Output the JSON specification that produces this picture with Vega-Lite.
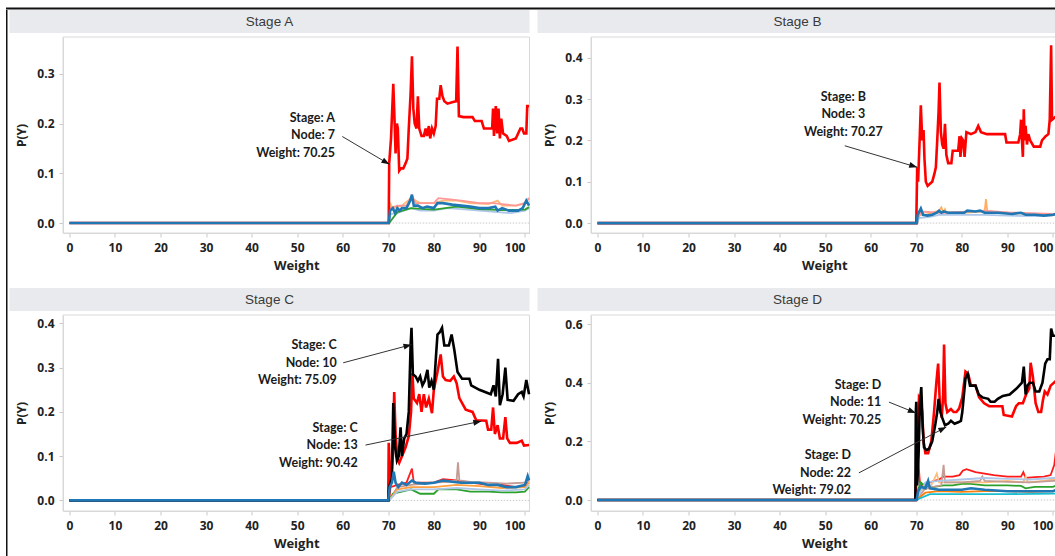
{
  "$schema": "https://vega.github.io/schema/vega-lite/v6.json",
  "padding": {"left": 6, "top": 7.5, "right": 0, "bottom": 0},
  "background": "white",
  "config": {
    "view": {"stroke": null},
    "axis": {"domainColor": "#d6d6d6", "tickColor": "#c8c8c8", "tickSize": 4, "labelFont": "Open Sans", "labelFontWeight": "bold", "labelFontSize": 12, "labelColor": "#222222", "titleFont": "Open Sans", "titleFontWeight": "bold", "titleFontSize": 13, "titleColor": "#222222", "grid": false, "labelOverlap": false},
    "axisY": {"titleFontSize": 12}
  },
  "datasets": {
    "A": [
      {"node":"7","weight":0,"p":0},{"node":"7","weight":70.1,"p":0},{"node":"7","weight":70.2,"p":0.12},{"node":"7","weight":70.6,"p":0.17},{"node":"7","weight":71.1,"p":0.28},{"node":"7","weight":71.4,"p":0.2},{"node":"7","weight":71.6,"p":0.14},{"node":"7","weight":71.9,"p":0.2},{"node":"7","weight":72.1,"p":0.19},{"node":"7","weight":72.4,"p":0.105},{"node":"7","weight":72.8,"p":0.11},{"node":"7","weight":73.3,"p":0.11},{"node":"7","weight":73.8,"p":0.12},{"node":"7","weight":74.2,"p":0.13},{"node":"7","weight":74.5,"p":0.19},{"node":"7","weight":74.9,"p":0.26},{"node":"7","weight":75.2,"p":0.335},{"node":"7","weight":75.5,"p":0.23},{"node":"7","weight":75.8,"p":0.2},{"node":"7","weight":76.2,"p":0.19},{"node":"7","weight":76.5,"p":0.255},{"node":"7","weight":76.8,"p":0.19},{"node":"7","weight":77.3,"p":0.175},{"node":"7","weight":77.8,"p":0.175},{"node":"7","weight":78.2,"p":0.19},{"node":"7","weight":78.5,"p":0.175},{"node":"7","weight":78.9,"p":0.195},{"node":"7","weight":79.2,"p":0.17},{"node":"7","weight":79.6,"p":0.19},{"node":"7","weight":80.0,"p":0.18},{"node":"7","weight":80.4,"p":0.195},{"node":"7","weight":80.7,"p":0.25},{"node":"7","weight":81.2,"p":0.25},{"node":"7","weight":81.5,"p":0.277},{"node":"7","weight":81.9,"p":0.255},{"node":"7","weight":82.3,"p":0.245},{"node":"7","weight":83.0,"p":0.24},{"node":"7","weight":84.0,"p":0.243},{"node":"7","weight":84.9,"p":0.245},{"node":"7","weight":85.2,"p":0.355},{"node":"7","weight":85.5,"p":0.215},{"node":"7","weight":86.5,"p":0.213},{"node":"7","weight":88.5,"p":0.213},{"node":"7","weight":89.0,"p":0.205},{"node":"7","weight":90.5,"p":0.205},{"node":"7","weight":91.0,"p":0.19},{"node":"7","weight":92.8,"p":0.19},{"node":"7","weight":93.0,"p":0.23},{"node":"7","weight":93.2,"p":0.175},{"node":"7","weight":93.6,"p":0.235},{"node":"7","weight":93.9,"p":0.18},{"node":"7","weight":94.2,"p":0.23},{"node":"7","weight":94.5,"p":0.17},{"node":"7","weight":94.8,"p":0.21},{"node":"7","weight":95.2,"p":0.18},{"node":"7","weight":96.0,"p":0.175},{"node":"7","weight":96.5,"p":0.165},{"node":"7","weight":98.0,"p":0.17},{"node":"7","weight":99.0,"p":0.19},{"node":"7","weight":99.4,"p":0.19},{"node":"7","weight":99.8,"p":0.18},{"node":"7","weight":100.3,"p":0.18},{"node":"7","weight":100.5,"p":0.235},{"node":"7","weight":100.9,"p":0.235},
      {"node":"1","weight":0,"p":0},{"node":"1","weight":70.1,"p":0},{"node":"1","weight":70.4,"p":0.025},{"node":"1","weight":71.0,"p":0.03},{"node":"1","weight":71.5,"p":0.02},{"node":"1","weight":72.0,"p":0.03},{"node":"1","weight":72.5,"p":0.025},{"node":"1","weight":73.0,"p":0.03},{"node":"1","weight":74.0,"p":0.03},{"node":"1","weight":74.8,"p":0.045},{"node":"1","weight":75.2,"p":0.057},{"node":"1","weight":75.6,"p":0.035},{"node":"1","weight":76.5,"p":0.035},{"node":"1","weight":77.5,"p":0.03},{"node":"1","weight":78.5,"p":0.033},{"node":"1","weight":80.0,"p":0.03},{"node":"1","weight":80.8,"p":0.04},{"node":"1","weight":82.0,"p":0.04},{"node":"1","weight":84.0,"p":0.037},{"node":"1","weight":86.0,"p":0.035},{"node":"1","weight":88.0,"p":0.033},{"node":"1","weight":90.0,"p":0.03},{"node":"1","weight":92.0,"p":0.03},{"node":"1","weight":93.5,"p":0.033},{"node":"1","weight":94.0,"p":0.025},{"node":"1","weight":95.0,"p":0.03},{"node":"1","weight":96.5,"p":0.025},{"node":"1","weight":98.5,"p":0.025},{"node":"1","weight":99.5,"p":0.03},{"node":"1","weight":100.3,"p":0.045},{"node":"1","weight":100.9,"p":0.035},
      {"node":"2","weight":70.2,"p":0},{"node":"2","weight":70.4,"p":0.04},{"node":"2","weight":71.0,"p":0.03},{"node":"2","weight":73.0,"p":0.035},{"node":"2","weight":75.0,"p":0.05},{"node":"2","weight":77.0,"p":0.04},{"node":"2","weight":80.0,"p":0.04},{"node":"2","weight":82.0,"p":0.045},{"node":"2","weight":85.0,"p":0.045},{"node":"2","weight":88.0,"p":0.04},{"node":"2","weight":92.0,"p":0.038},{"node":"2","weight":94.0,"p":0.045},{"node":"2","weight":95.0,"p":0.035},{"node":"2","weight":98.0,"p":0.035},{"node":"2","weight":100.0,"p":0.04},{"node":"2","weight":100.9,"p":0.05},
      {"node":"3","weight":70.2,"p":0},{"node":"3","weight":70.5,"p":0.03},{"node":"3","weight":72.0,"p":0.035},{"node":"3","weight":74.0,"p":0.035},{"node":"3","weight":75.2,"p":0.055},{"node":"3","weight":76.0,"p":0.04},{"node":"3","weight":78.0,"p":0.04},{"node":"3","weight":80.0,"p":0.04},{"node":"3","weight":81.0,"p":0.05},{"node":"3","weight":83.0,"p":0.048},{"node":"3","weight":86.0,"p":0.045},{"node":"3","weight":90.0,"p":0.04},{"node":"3","weight":93.0,"p":0.04},{"node":"3","weight":95.0,"p":0.038},{"node":"3","weight":98.0,"p":0.035},{"node":"3","weight":100.0,"p":0.04},{"node":"3","weight":100.9,"p":0.05},
      {"node":"4","weight":70.2,"p":0},{"node":"4","weight":70.5,"p":0.018},{"node":"4","weight":72.0,"p":0.02},{"node":"4","weight":75.0,"p":0.03},{"node":"4","weight":77.0,"p":0.025},{"node":"4","weight":80.0,"p":0.025},{"node":"4","weight":83.0,"p":0.03},{"node":"4","weight":86.0,"p":0.028},{"node":"4","weight":90.0,"p":0.025},{"node":"4","weight":94.0,"p":0.022},{"node":"4","weight":97.0,"p":0.02},{"node":"4","weight":100.0,"p":0.025},{"node":"4","weight":100.9,"p":0.03},
      {"node":"5","weight":70.2,"p":0},{"node":"5","weight":72.0,"p":0.022},{"node":"5","weight":75.0,"p":0.03},{"node":"5","weight":78.0,"p":0.028},{"node":"5","weight":80.0,"p":0.027},{"node":"5","weight":85.0,"p":0.033},{"node":"5","weight":90.0,"p":0.028},{"node":"5","weight":95.0,"p":0.026},{"node":"5","weight":100.0,"p":0.027},{"node":"5","weight":100.9,"p":0.032}
    ],
    "B": [
      {"node":"3","weight":0,"p":0},{"node":"3","weight":70.0,"p":0},{"node":"3","weight":70.05,"p":0.03},{"node":"3","weight":70.2,"p":0.135},{"node":"3","weight":70.4,"p":0.1},{"node":"3","weight":70.8,"p":0.22},{"node":"3","weight":71.0,"p":0.285},{"node":"3","weight":71.3,"p":0.2},{"node":"3","weight":71.6,"p":0.225},{"node":"3","weight":71.8,"p":0.155},{"node":"3","weight":72.1,"p":0.1},{"node":"3","weight":72.5,"p":0.09},{"node":"3","weight":73.0,"p":0.095},{"node":"3","weight":73.5,"p":0.1},{"node":"3","weight":74.0,"p":0.12},{"node":"3","weight":74.3,"p":0.135},{"node":"3","weight":74.6,"p":0.2},{"node":"3","weight":74.9,"p":0.27},{"node":"3","weight":75.1,"p":0.34},{"node":"3","weight":75.4,"p":0.22},{"node":"3","weight":75.7,"p":0.19},{"node":"3","weight":76.0,"p":0.18},{"node":"3","weight":76.3,"p":0.24},{"node":"3","weight":76.6,"p":0.165},{"node":"3","weight":77.0,"p":0.145},{"node":"3","weight":77.7,"p":0.145},{"node":"3","weight":78.0,"p":0.175},{"node":"3","weight":79.2,"p":0.175},{"node":"3","weight":79.5,"p":0.21},{"node":"3","weight":79.7,"p":0.16},{"node":"3","weight":80.0,"p":0.205},{"node":"3","weight":80.3,"p":0.2},{"node":"3","weight":80.6,"p":0.16},{"node":"3","weight":81.0,"p":0.22},{"node":"3","weight":82.0,"p":0.215},{"node":"3","weight":83.0,"p":0.22},{"node":"3","weight":83.6,"p":0.235},{"node":"3","weight":84.2,"p":0.22},{"node":"3","weight":85.5,"p":0.215},{"node":"3","weight":89.5,"p":0.215},{"node":"3","weight":89.8,"p":0.195},{"node":"3","weight":92.4,"p":0.195},{"node":"3","weight":92.8,"p":0.215},{"node":"3","weight":93.0,"p":0.25},{"node":"3","weight":93.2,"p":0.2},{"node":"3","weight":93.4,"p":0.16},{"node":"3","weight":93.6,"p":0.275},{"node":"3","weight":93.8,"p":0.2},{"node":"3","weight":94.0,"p":0.235},{"node":"3","weight":94.3,"p":0.19},{"node":"3","weight":94.6,"p":0.215},{"node":"3","weight":95.0,"p":0.2},{"node":"3","weight":95.8,"p":0.185},{"node":"3","weight":97.2,"p":0.185},{"node":"3","weight":97.6,"p":0.2},{"node":"3","weight":98.4,"p":0.21},{"node":"3","weight":99.0,"p":0.215},{"node":"3","weight":99.3,"p":0.25},{"node":"3","weight":99.6,"p":0.43},{"node":"3","weight":99.8,"p":0.25},{"node":"3","weight":100.9,"p":0.26},
      {"node":"1","weight":0,"p":0},{"node":"1","weight":70.1,"p":0},{"node":"1","weight":70.3,"p":0.02},{"node":"1","weight":71.0,"p":0.035},{"node":"1","weight":71.5,"p":0.02},{"node":"1","weight":72.5,"p":0.018},{"node":"1","weight":73.5,"p":0.02},{"node":"1","weight":74.5,"p":0.025},{"node":"1","weight":75.0,"p":0.03},{"node":"1","weight":75.5,"p":0.025},{"node":"1","weight":76.0,"p":0.028},{"node":"1","weight":77.0,"p":0.025},{"node":"1","weight":78.0,"p":0.025},{"node":"1","weight":79.5,"p":0.025},{"node":"1","weight":80.5,"p":0.025},{"node":"1","weight":81.2,"p":0.03},{"node":"1","weight":83.0,"p":0.028},{"node":"1","weight":84.0,"p":0.03},{"node":"1","weight":85.0,"p":0.025},{"node":"1","weight":88.0,"p":0.025},{"node":"1","weight":91.0,"p":0.022},{"node":"1","weight":93.0,"p":0.025},{"node":"1","weight":94.0,"p":0.02},{"node":"1","weight":96.0,"p":0.02},{"node":"1","weight":98.0,"p":0.018},{"node":"1","weight":100.0,"p":0.02},{"node":"1","weight":100.9,"p":0.022},
      {"node":"2","weight":70.2,"p":0},{"node":"2","weight":70.5,"p":0.02},{"node":"2","weight":72.0,"p":0.02},{"node":"2","weight":75.0,"p":0.03},{"node":"2","weight":75.5,"p":0.038},{"node":"2","weight":76.0,"p":0.025},{"node":"2","weight":76.3,"p":0.033},{"node":"2","weight":76.6,"p":0.025},{"node":"2","weight":80.0,"p":0.025},{"node":"2","weight":85.0,"p":0.028},{"node":"2","weight":85.3,"p":0.058},{"node":"2","weight":85.6,"p":0.028},{"node":"2","weight":90.0,"p":0.025},{"node":"2","weight":95.0,"p":0.022},{"node":"2","weight":100.0,"p":0.02},{"node":"2","weight":100.9,"p":0.022},
      {"node":"4","weight":70.2,"p":0},{"node":"4","weight":71.0,"p":0.028},{"node":"4","weight":75.0,"p":0.025},{"node":"4","weight":80.0,"p":0.027},{"node":"4","weight":85.0,"p":0.03},{"node":"4","weight":90.0,"p":0.026},{"node":"4","weight":100.0,"p":0.022},{"node":"4","weight":100.9,"p":0.024},
      {"node":"5","weight":70.2,"p":0},{"node":"5","weight":70.5,"p":0.012},{"node":"5","weight":73.0,"p":0.015},{"node":"5","weight":75.0,"p":0.02},{"node":"5","weight":80.0,"p":0.02},{"node":"5","weight":85.0,"p":0.02},{"node":"5","weight":90.0,"p":0.018},{"node":"5","weight":95.0,"p":0.017},{"node":"5","weight":100.0,"p":0.018}
    ],
    "C": [
      {"node":"10","weight":0,"p":0},{"node":"10","weight":70.0,"p":0},{"node":"10","weight":70.2,"p":0.03},{"node":"10","weight":70.8,"p":0.05},{"node":"10","weight":71.1,"p":0.22},{"node":"10","weight":71.5,"p":0.12},{"node":"10","weight":71.9,"p":0.09},{"node":"10","weight":72.3,"p":0.1},{"node":"10","weight":72.7,"p":0.165},{"node":"10","weight":73.0,"p":0.1},{"node":"10","weight":73.5,"p":0.14},{"node":"10","weight":74.0,"p":0.15},{"node":"10","weight":74.5,"p":0.2},{"node":"10","weight":74.9,"p":0.35},{"node":"10","weight":75.1,"p":0.39},{"node":"10","weight":75.4,"p":0.285},{"node":"10","weight":76.0,"p":0.28},{"node":"10","weight":76.5,"p":0.27},{"node":"10","weight":77.0,"p":0.28},{"node":"10","weight":77.5,"p":0.26},{"node":"10","weight":78.0,"p":0.27},{"node":"10","weight":78.6,"p":0.295},{"node":"10","weight":79.0,"p":0.255},{"node":"10","weight":79.5,"p":0.27},{"node":"10","weight":80.0,"p":0.25},{"node":"10","weight":80.5,"p":0.33},{"node":"10","weight":80.8,"p":0.375},{"node":"10","weight":81.3,"p":0.38},{"node":"10","weight":81.8,"p":0.39},{"node":"10","weight":82.3,"p":0.35},{"node":"10","weight":83.3,"p":0.35},{"node":"10","weight":83.9,"p":0.375},{"node":"10","weight":84.5,"p":0.34},{"node":"10","weight":85.2,"p":0.29},{"node":"10","weight":86.2,"p":0.275},{"node":"10","weight":87.8,"p":0.275},{"node":"10","weight":88.2,"p":0.26},{"node":"10","weight":90.0,"p":0.25},{"node":"10","weight":92.5,"p":0.24},{"node":"10","weight":93.1,"p":0.26},{"node":"10","weight":93.6,"p":0.235},{"node":"10","weight":94.1,"p":0.32},{"node":"10","weight":94.5,"p":0.215},{"node":"10","weight":95.1,"p":0.24},{"node":"10","weight":95.7,"p":0.3},{"node":"10","weight":96.2,"p":0.227},{"node":"10","weight":97.5,"p":0.225},{"node":"10","weight":98.5,"p":0.24},{"node":"10","weight":99.3,"p":0.245},{"node":"10","weight":99.7,"p":0.235},{"node":"10","weight":100.3,"p":0.272},{"node":"10","weight":100.9,"p":0.24},
      {"node":"13","weight":0,"p":0},{"node":"13","weight":70.0,"p":0},{"node":"13","weight":70.1,"p":0.13},{"node":"13","weight":70.5,"p":0.04},{"node":"13","weight":71.0,"p":0.1},{"node":"13","weight":71.3,"p":0.245},{"node":"13","weight":71.6,"p":0.15},{"node":"13","weight":72.0,"p":0.095},{"node":"13","weight":72.4,"p":0.085},{"node":"13","weight":73.0,"p":0.1},{"node":"13","weight":73.8,"p":0.12},{"node":"13","weight":74.5,"p":0.145},{"node":"13","weight":75.0,"p":0.2},{"node":"13","weight":75.3,"p":0.287},{"node":"13","weight":75.6,"p":0.23},{"node":"13","weight":76.3,"p":0.22},{"node":"13","weight":76.8,"p":0.24},{"node":"13","weight":77.3,"p":0.2},{"node":"13","weight":77.8,"p":0.24},{"node":"13","weight":78.3,"p":0.21},{"node":"13","weight":78.9,"p":0.23},{"node":"13","weight":79.6,"p":0.197},{"node":"13","weight":80.0,"p":0.25},{"node":"13","weight":80.8,"p":0.29},{"node":"13","weight":81.5,"p":0.33},{"node":"13","weight":82.0,"p":0.28},{"node":"13","weight":82.6,"p":0.272},{"node":"13","weight":83.6,"p":0.27},{"node":"13","weight":84.4,"p":0.28},{"node":"13","weight":85.0,"p":0.265},{"node":"13","weight":85.6,"p":0.231},{"node":"13","weight":87.0,"p":0.205},{"node":"13","weight":88.5,"p":0.2},{"node":"13","weight":89.3,"p":0.181},{"node":"13","weight":91.5,"p":0.18},{"node":"13","weight":91.9,"p":0.16},{"node":"13","weight":92.6,"p":0.16},{"node":"13","weight":93.0,"p":0.21},{"node":"13","weight":93.4,"p":0.15},{"node":"13","weight":94.0,"p":0.17},{"node":"13","weight":94.5,"p":0.14},{"node":"13","weight":95.2,"p":0.14},{"node":"13","weight":95.7,"p":0.188},{"node":"13","weight":96.1,"p":0.14},{"node":"13","weight":96.7,"p":0.13},{"node":"13","weight":98.2,"p":0.13},{"node":"13","weight":99.3,"p":0.135},{"node":"13","weight":99.8,"p":0.124},{"node":"13","weight":100.9,"p":0.125},
      {"node":"1","weight":0,"p":0},{"node":"1","weight":70.0,"p":0},{"node":"1","weight":70.3,"p":0.03},{"node":"1","weight":70.8,"p":0.04},{"node":"1","weight":71.2,"p":0.065},{"node":"1","weight":71.6,"p":0.04},{"node":"1","weight":72.2,"p":0.03},{"node":"1","weight":73.0,"p":0.04},{"node":"1","weight":74.0,"p":0.035},{"node":"1","weight":75.2,"p":0.045},{"node":"1","weight":76.0,"p":0.04},{"node":"1","weight":78.0,"p":0.038},{"node":"1","weight":80.0,"p":0.04},{"node":"1","weight":82.0,"p":0.045},{"node":"1","weight":84.0,"p":0.042},{"node":"1","weight":86.0,"p":0.04},{"node":"1","weight":88.0,"p":0.04},{"node":"1","weight":90.0,"p":0.04},{"node":"1","weight":92.0,"p":0.035},{"node":"1","weight":94.0,"p":0.035},{"node":"1","weight":96.0,"p":0.03},{"node":"1","weight":98.0,"p":0.03},{"node":"1","weight":100.0,"p":0.035},{"node":"1","weight":100.6,"p":0.055},{"node":"1","weight":100.9,"p":0.045},
      {"node":"2","weight":70.2,"p":0},{"node":"2","weight":70.5,"p":0.03},{"node":"2","weight":72.0,"p":0.035},{"node":"2","weight":74.0,"p":0.04},{"node":"2","weight":75.2,"p":0.072},{"node":"2","weight":75.6,"p":0.04},{"node":"2","weight":78.0,"p":0.04},{"node":"2","weight":80.0,"p":0.04},{"node":"2","weight":82.0,"p":0.048},{"node":"2","weight":85.0,"p":0.045},{"node":"2","weight":88.0,"p":0.04},{"node":"2","weight":92.0,"p":0.035},{"node":"2","weight":95.0,"p":0.035},{"node":"2","weight":98.0,"p":0.03},{"node":"2","weight":100.0,"p":0.03},{"node":"2","weight":100.9,"p":0.05},
      {"node":"3","weight":70.2,"p":0},{"node":"3","weight":72.0,"p":0.03},{"node":"3","weight":75.0,"p":0.035},{"node":"3","weight":78.0,"p":0.038},{"node":"3","weight":80.0,"p":0.04},{"node":"3","weight":83.0,"p":0.042},{"node":"3","weight":85.0,"p":0.045},{"node":"3","weight":85.3,"p":0.086},{"node":"3","weight":85.6,"p":0.045},{"node":"3","weight":88.0,"p":0.042},{"node":"3","weight":92.0,"p":0.04},{"node":"3","weight":96.0,"p":0.038},{"node":"3","weight":100.0,"p":0.04},{"node":"3","weight":100.9,"p":0.045},
      {"node":"4","weight":70.2,"p":0},{"node":"4","weight":71.0,"p":0.015},{"node":"4","weight":73.0,"p":0.02},{"node":"4","weight":75.0,"p":0.025},{"node":"4","weight":77.0,"p":0.015},{"node":"4","weight":80.0,"p":0.015},{"node":"4","weight":81.0,"p":0.025},{"node":"4","weight":85.0,"p":0.025},{"node":"4","weight":88.0,"p":0.02},{"node":"4","weight":92.0,"p":0.02},{"node":"4","weight":95.0,"p":0.018},{"node":"4","weight":98.0,"p":0.018},{"node":"4","weight":100.0,"p":0.02},{"node":"4","weight":100.9,"p":0.03},
      {"node":"5","weight":70.2,"p":0},{"node":"5","weight":72.0,"p":0.025},{"node":"5","weight":75.0,"p":0.03},{"node":"5","weight":80.0,"p":0.03},{"node":"5","weight":85.0,"p":0.035},{"node":"5","weight":90.0,"p":0.032},{"node":"5","weight":95.0,"p":0.028},{"node":"5","weight":100.0,"p":0.03},{"node":"5","weight":100.9,"p":0.04},
      {"node":"6","weight":70.2,"p":0},{"node":"6","weight":72.0,"p":0.02},{"node":"6","weight":75.0,"p":0.025},{"node":"6","weight":80.0,"p":0.025},{"node":"6","weight":85.0,"p":0.028},{"node":"6","weight":90.0,"p":0.025},{"node":"6","weight":95.0,"p":0.022},{"node":"6","weight":100.0,"p":0.025},{"node":"6","weight":100.9,"p":0.035}
    ],
    "D": [
      {"node":"11","weight":0,"p":0},{"node":"11","weight":69.8,"p":0},{"node":"11","weight":69.9,"p":0.3},{"node":"11","weight":70.0,"p":0.335},{"node":"11","weight":70.2,"p":0.05},{"node":"11","weight":70.5,"p":0.15},{"node":"11","weight":70.8,"p":0.33},{"node":"11","weight":71.1,"p":0.385},{"node":"11","weight":71.4,"p":0.25},{"node":"11","weight":71.7,"p":0.18},{"node":"11","weight":72.2,"p":0.17},{"node":"11","weight":72.8,"p":0.175},{"node":"11","weight":73.5,"p":0.2},{"node":"11","weight":74.2,"p":0.26},{"node":"11","weight":74.6,"p":0.3},{"node":"11","weight":74.9,"p":0.345},{"node":"11","weight":75.3,"p":0.3},{"node":"11","weight":75.7,"p":0.28},{"node":"11","weight":76.3,"p":0.255},{"node":"11","weight":77.0,"p":0.26},{"node":"11","weight":77.6,"p":0.27},{"node":"11","weight":78.4,"p":0.26},{"node":"11","weight":79.2,"p":0.265},{"node":"11","weight":79.8,"p":0.27},{"node":"11","weight":80.1,"p":0.3},{"node":"11","weight":80.8,"p":0.415},{"node":"11","weight":81.3,"p":0.43},{"node":"11","weight":81.8,"p":0.39},{"node":"11","weight":83.0,"p":0.39},{"node":"11","weight":83.7,"p":0.36},{"node":"11","weight":84.5,"p":0.35},{"node":"11","weight":85.8,"p":0.345},{"node":"11","weight":86.3,"p":0.335},{"node":"11","weight":87.2,"p":0.335},{"node":"11","weight":87.9,"p":0.345},{"node":"11","weight":89.0,"p":0.355},{"node":"11","weight":90.5,"p":0.36},{"node":"11","weight":92.0,"p":0.38},{"node":"11","weight":93.2,"p":0.4},{"node":"11","weight":93.6,"p":0.455},{"node":"11","weight":94.0,"p":0.36},{"node":"11","weight":94.4,"p":0.39},{"node":"11","weight":94.9,"p":0.4},{"node":"11","weight":95.6,"p":0.4},{"node":"11","weight":96.2,"p":0.37},{"node":"11","weight":97.0,"p":0.37},{"node":"11","weight":97.7,"p":0.4},{"node":"11","weight":98.3,"p":0.465},{"node":"11","weight":98.8,"p":0.48},{"node":"11","weight":99.3,"p":0.48},{"node":"11","weight":99.6,"p":0.585},{"node":"11","weight":100.0,"p":0.56},{"node":"11","weight":100.9,"p":0.56},
      {"node":"22","weight":0,"p":0},{"node":"22","weight":69.9,"p":0},{"node":"22","weight":70.0,"p":0.1},{"node":"22","weight":70.3,"p":0.2},{"node":"22","weight":70.6,"p":0.35},{"node":"22","weight":71.0,"p":0.34},{"node":"22","weight":71.3,"p":0.3},{"node":"22","weight":71.6,"p":0.2},{"node":"22","weight":72.0,"p":0.16},{"node":"22","weight":72.6,"p":0.16},{"node":"22","weight":73.3,"p":0.2},{"node":"22","weight":73.9,"p":0.3},{"node":"22","weight":74.4,"p":0.4},{"node":"22","weight":74.8,"p":0.465},{"node":"22","weight":75.2,"p":0.32},{"node":"22","weight":75.6,"p":0.28},{"node":"22","weight":75.9,"p":0.36},{"node":"22","weight":76.1,"p":0.53},{"node":"22","weight":76.4,"p":0.33},{"node":"22","weight":76.8,"p":0.3},{"node":"22","weight":77.6,"p":0.31},{"node":"22","weight":78.2,"p":0.3},{"node":"22","weight":78.8,"p":0.3},{"node":"22","weight":79.4,"p":0.312},{"node":"22","weight":80.1,"p":0.35},{"node":"22","weight":80.8,"p":0.438},{"node":"22","weight":81.4,"p":0.43},{"node":"22","weight":82.0,"p":0.39},{"node":"22","weight":83.0,"p":0.39},{"node":"22","weight":83.8,"p":0.35},{"node":"22","weight":84.9,"p":0.33},{"node":"22","weight":86.0,"p":0.32},{"node":"22","weight":88.9,"p":0.32},{"node":"22","weight":89.2,"p":0.29},{"node":"22","weight":91.0,"p":0.285},{"node":"22","weight":91.9,"p":0.32},{"node":"22","weight":92.5,"p":0.33},{"node":"22","weight":93.4,"p":0.33},{"node":"22","weight":94.1,"p":0.36},{"node":"22","weight":94.8,"p":0.38},{"node":"22","weight":95.1,"p":0.468},{"node":"22","weight":95.6,"p":0.42},{"node":"22","weight":96.2,"p":0.33},{"node":"22","weight":96.8,"p":0.3},{"node":"22","weight":97.4,"p":0.3},{"node":"22","weight":97.8,"p":0.34},{"node":"22","weight":98.2,"p":0.37},{"node":"22","weight":98.8,"p":0.36},{"node":"22","weight":99.5,"p":0.39},{"node":"22","weight":100.9,"p":0.41},
      {"node":"1","weight":0,"p":0},{"node":"1","weight":70.1,"p":0},{"node":"1","weight":70.4,"p":0.03},{"node":"1","weight":71.0,"p":0.045},{"node":"1","weight":72.0,"p":0.04},{"node":"1","weight":72.6,"p":0.065},{"node":"1","weight":73.0,"p":0.04},{"node":"1","weight":75.0,"p":0.035},{"node":"1","weight":78.0,"p":0.035},{"node":"1","weight":80.0,"p":0.035},{"node":"1","weight":82.0,"p":0.04},{"node":"1","weight":85.0,"p":0.035},{"node":"1","weight":90.0,"p":0.03},{"node":"1","weight":95.0,"p":0.03},{"node":"1","weight":100.0,"p":0.03},{"node":"1","weight":100.9,"p":0.035},
      {"node":"2","weight":69.9,"p":0},{"node":"2","weight":70.1,"p":0.13},{"node":"2","weight":70.4,"p":0.14},{"node":"2","weight":70.8,"p":0.06},{"node":"2","weight":71.2,"p":0.05},{"node":"2","weight":72.0,"p":0.055},{"node":"2","weight":73.0,"p":0.06},{"node":"2","weight":74.0,"p":0.065},{"node":"2","weight":75.0,"p":0.07},{"node":"2","weight":76.0,"p":0.08},{"node":"2","weight":78.0,"p":0.08},{"node":"2","weight":79.5,"p":0.085},{"node":"2","weight":80.2,"p":0.1},{"node":"2","weight":81.0,"p":0.105},{"node":"2","weight":82.0,"p":0.1},{"node":"2","weight":83.0,"p":0.095},{"node":"2","weight":85.0,"p":0.09},{"node":"2","weight":87.0,"p":0.085},{"node":"2","weight":90.0,"p":0.08},{"node":"2","weight":93.0,"p":0.08},{"node":"2","weight":93.5,"p":0.095},{"node":"2","weight":94.0,"p":0.075},{"node":"2","weight":96.0,"p":0.078},{"node":"2","weight":98.0,"p":0.08},{"node":"2","weight":99.5,"p":0.085},{"node":"2","weight":100.3,"p":0.12},{"node":"2","weight":100.6,"p":0.16},{"node":"2","weight":100.9,"p":0.16},
      {"node":"3","weight":70.0,"p":0},{"node":"3","weight":70.5,"p":0.04},{"node":"3","weight":71.0,"p":0.06},{"node":"3","weight":72.0,"p":0.045},{"node":"3","weight":74.0,"p":0.045},{"node":"3","weight":76.0,"p":0.05},{"node":"3","weight":78.0,"p":0.05},{"node":"3","weight":80.0,"p":0.055},{"node":"3","weight":82.0,"p":0.055},{"node":"3","weight":85.0,"p":0.05},{"node":"3","weight":90.0,"p":0.05},{"node":"3","weight":93.0,"p":0.048},{"node":"3","weight":94.0,"p":0.04},{"node":"3","weight":96.0,"p":0.045},{"node":"3","weight":100.0,"p":0.045},{"node":"3","weight":100.9,"p":0.05},
      {"node":"4","weight":70.0,"p":0},{"node":"4","weight":71.0,"p":0.035},{"node":"4","weight":73.0,"p":0.04},{"node":"4","weight":74.5,"p":0.09},{"node":"4","weight":75.0,"p":0.06},{"node":"4","weight":77.0,"p":0.06},{"node":"4","weight":80.0,"p":0.06},{"node":"4","weight":85.0,"p":0.06},{"node":"4","weight":90.0,"p":0.065},{"node":"4","weight":93.5,"p":0.06},{"node":"4","weight":94.0,"p":0.08},{"node":"4","weight":94.5,"p":0.06},{"node":"4","weight":98.0,"p":0.065},{"node":"4","weight":100.0,"p":0.07},{"node":"4","weight":100.9,"p":0.07},
      {"node":"5","weight":70.0,"p":0},{"node":"5","weight":72.0,"p":0.04},{"node":"5","weight":75.5,"p":0.05},{"node":"5","weight":76.0,"p":0.12},{"node":"5","weight":76.3,"p":0.06},{"node":"5","weight":80.0,"p":0.06},{"node":"5","weight":84.0,"p":0.065},{"node":"5","weight":84.5,"p":0.08},{"node":"5","weight":85.0,"p":0.065},{"node":"5","weight":90.0,"p":0.062},{"node":"5","weight":95.0,"p":0.06},{"node":"5","weight":100.0,"p":0.065},{"node":"5","weight":100.9,"p":0.065},
      {"node":"6","weight":70.0,"p":0},{"node":"6","weight":72.0,"p":0.06},{"node":"6","weight":75.0,"p":0.065},{"node":"6","weight":80.0,"p":0.07},{"node":"6","weight":85.0,"p":0.075},{"node":"6","weight":90.0,"p":0.072},{"node":"6","weight":95.0,"p":0.07},{"node":"6","weight":100.0,"p":0.075},{"node":"6","weight":100.9,"p":0.075},
      {"node":"7","weight":70.0,"p":0},{"node":"7","weight":72.0,"p":0.025},{"node":"7","weight":75.0,"p":0.03},{"node":"7","weight":80.0,"p":0.028},{"node":"7","weight":85.0,"p":0.03},{"node":"7","weight":90.0,"p":0.03},{"node":"7","weight":95.0,"p":0.028},{"node":"7","weight":100.0,"p":0.03},{"node":"7","weight":100.9,"p":0.03},
      {"node":"8","weight":70.0,"p":0},{"node":"8","weight":73.0,"p":0.02},{"node":"8","weight":80.0,"p":0.02},{"node":"8","weight":90.0,"p":0.02},{"node":"8","weight":100.0,"p":0.022},{"node":"8","weight":100.9,"p":0.022}
    ],
    "notes": [
      {"stage":"A","node":"7","label":["Stage: A","Node: 7","Weight: 70.25"],"lx":58.3,"ly":0.176,"ax":59.9,"ay":0.174,"weight":70.25,"p":0.118},
      {"stage":"B","node":"3","label":["Stage: B","Node: 3","Weight: 70.27"],"lx":54.0,"ly":0.263,"ax":54.3,"ay":0.187,"weight":70.2,"p":0.135},
      {"stage":"C","node":"10","label":["Stage: C","Node: 10","Weight: 75.09"],"lx":58.7,"ly":0.311,"ax":60.1,"ay":0.311,"weight":75.09,"p":0.352},
      {"stage":"C","node":"13","label":["Stage: C","Node: 13","Weight: 90.42"],"lx":63.3,"ly":0.125,"ax":65.0,"ay":0.125,"weight":90.42,"p":0.179},
      {"stage":"D","node":"11","label":["Stage: D","Node: 11","Weight: 70.25"],"lx":62.3,"ly":0.334,"ax":64.0,"ay":0.334,"weight":69.9,"p":0.297},
      {"stage":"D","node":"22","label":["Stage: D","Node: 22","Weight: 79.02"],"lx":55.7,"ly":0.0925,"ax":57.4,"ay":0.0925,"weight":76.6,"p":0.249}
    ]
  },
  "resolve": {"scale": {"color": "independent"}},
  "spacing": 0.5,
  "vconcat": [
    {"width": 1049, "height": 2, "view": {"fill": "#111111", "stroke": null}, "data": {"values": []}, "mark": {"type": "point", "opacity": 0}},
    {
      "spacing": 1.5,
      "resolve": {"scale": {"color": "independent"}},
      "hconcat": [
        {"width": 1.5, "height": 546, "view": {"fill": "#111111", "stroke": null}, "data": {"values": []}, "mark": {"type": "point", "opacity": 0}},
        {
          "resolve": {"scale": {"color": "independent"}},
          "spacing": 16,
          "vconcat": [
            {
              "spacing": 3,
              "resolve": {"scale": {"color": "independent"}},
              "hconcat": [
                {
                  "spacing": 3,
                  "resolve": {"scale": {"color": "independent"}},
                  "vconcat": [
                    {"width": 520, "height": 23, "view": {"fill": "#e9eaee", "stroke": null}, "data": {"values": [{"stage": "Stage A"}]}, "mark": {"type": "text", "font": "Liberation Sans", "fontSize": 13.5, "color": "#3a3a3a", "baseline": "middle"}, "encoding": {"text": {"field": "stage", "type": "nominal"}}},
                    {
                      "width": 520, "height": 196,
                      "layer": [
                        {"data": {"values": [{}]}, "mark": {"type": "rect", "fill": "transparent", "stroke": "#d9d9d9", "strokeWidth": 1},
                         "encoding": {"x": {"datum": -1.4, "type": "quantitative", "scale": {"domain": [-1.4, 101], "range": [53.5, 520], "nice": false, "zero": false}}, "x2": {"datum": 101}, "y": {"datum": -0.02, "type": "quantitative", "scale": {"domain": [-0.02, 0.374], "nice": false, "zero": false}}, "y2": {"datum": 0.374}}},
                        {"data": {"values": [{}]}, "mark": {"type": "rule", "color": "#c8c8c8", "strokeDash": [1.5, 1.5], "strokeWidth": 1},
                         "encoding": {"x": {"datum": 69, "type": "quantitative", "scale": {"domain": [-1.4, 101], "range": [53.5, 520], "nice": false, "zero": false}}, "x2": {"datum": 101}, "y": {"datum": 0, "type": "quantitative", "scale": {"domain": [-0.02, 0.374], "nice": false, "zero": false}}}},
                        {"data": {"name": "A"}, "transform": [{"filter": {"not": {"field": "node", "oneOf": ["7", "1"]}}}], "mark": {"type": "line", "strokeWidth": 1.8},
                         "encoding": {
                           "x": {"field": "weight", "type": "quantitative", "scale": {"domain": [-1.4, 101], "range": [53.5, 520], "nice": false, "zero": false}, "axis": {"values": [0,10,20,30,40,50,60,70,80,90,100], "title": "Weight", "labelFlush": 5.5, "labelPadding": 5, "titlePadding": 6}},
                           "y": {"field": "p", "type": "quantitative", "scale": {"domain": [-0.02, 0.374], "nice": false, "zero": false}, "axis": {"values": [0, 0.1, 0.2, 0.3], "format": ".1f", "title": "P(Y)", "offset": -53.5, "labelPadding": 5, "titlePadding": 8}},
                           "color": {"field": "node", "type": "nominal", "scale": {"domain": ["7","1","2","3","4","5"], "range": ["#ff0000","#1f77b4","#ffbb78","#ff9896","#aec7e8","#2ca02c"]}, "legend": null}}},
                        {"data": {"name": "A"}, "transform": [{"filter": {"field": "node", "equal": "7"}}], "mark": {"type": "line", "strokeWidth": 2.6},
                         "encoding": {"x": {"field": "weight", "type": "quantitative", "scale": {"domain": [-1.4, 101], "range": [53.5, 520], "nice": false, "zero": false}}, "y": {"field": "p", "type": "quantitative", "scale": {"domain": [-0.02, 0.374], "nice": false, "zero": false}},
                           "color": {"field": "node", "type": "nominal", "scale": {"domain": ["7","1","2","3","4","5"], "range": ["#ff0000","#1f77b4","#ffbb78","#ff9896","#aec7e8","#2ca02c"]}, "legend": null}}},
                        {"data": {"name": "A"}, "transform": [{"filter": {"field": "node", "equal": "1"}}], "mark": {"type": "line", "strokeWidth": 2.6},
                         "encoding": {"x": {"field": "weight", "type": "quantitative", "scale": {"domain": [-1.4, 101], "range": [53.5, 520], "nice": false, "zero": false}}, "y": {"field": "p", "type": "quantitative", "scale": {"domain": [-0.02, 0.374], "nice": false, "zero": false}},
                           "color": {"field": "node", "type": "nominal", "scale": {"domain": ["7","1","2","3","4","5"], "range": ["#ff0000","#1f77b4","#ffbb78","#ff9896","#aec7e8","#2ca02c"]}, "legend": null}}},
                        {"data": {"name": "notes"}, "transform": [{"filter": "datum.stage === 'A'"}], "mark": {"type": "text", "align": "right", "baseline": "middle", "dy": -17.5, "font": "Lato", "fontWeight": "bold", "fontSize": 12.5, "lineHeight": 17.5, "color": "#1a1a1a"},
                         "encoding": {"x": {"field": "lx", "type": "quantitative", "scale": {"domain": [-1.4, 101], "range": [53.5, 520], "nice": false, "zero": false}}, "y": {"field": "ly", "type": "quantitative", "scale": {"domain": [-0.02, 0.374], "nice": false, "zero": false}}, "text": {"field": "label", "type": "nominal"}}},
                        {"data": {"name": "notes"}, "transform": [{"filter": "datum.stage === 'A'"}], "mark": {"type": "rule", "color": "#333333", "strokeWidth": 1},
                         "encoding": {"x": {"field": "ax", "type": "quantitative", "scale": {"domain": [-1.4, 101], "range": [53.5, 520], "nice": false, "zero": false}}, "y": {"field": "ay", "type": "quantitative", "scale": {"domain": [-0.02, 0.374], "nice": false, "zero": false}}, "x2": {"field": "weight"}, "y2": {"field": "p"}}},
                        {"data": {"name": "notes"}, "transform": [{"filter": "datum.stage === 'A'"}], "mark": {"type": "point", "shape": "M0,0L-0.75,2L0.75,2Z", "filled": true, "color": "#111111", "opacity": 1, "size": 64, "angle": 120.6, "strokeWidth": 0},
                         "encoding": {"x": {"field": "weight", "type": "quantitative", "scale": {"domain": [-1.4, 101], "range": [53.5, 520], "nice": false, "zero": false}}, "y": {"field": "p", "type": "quantitative", "scale": {"domain": [-0.02, 0.374], "nice": false, "zero": false}}}}
                      ]
                    }
                  ]
                },
                {
                  "spacing": 3,
                  "resolve": {"scale": {"color": "independent"}},
                  "vconcat": [
                    {"width": 520, "height": 23, "view": {"fill": "#e9eaee", "stroke": null}, "data": {"values": [{"stage": "Stage B"}]}, "mark": {"type": "text", "font": "Liberation Sans", "fontSize": 13.5, "color": "#3a3a3a", "baseline": "middle"}, "encoding": {"text": {"field": "stage", "type": "nominal"}}},
                    {
                      "width": 520, "height": 196,
                      "layer": [
                        {"data": {"values": [{}]}, "mark": {"type": "rect", "fill": "transparent", "stroke": "#d9d9d9", "strokeWidth": 1},
                         "encoding": {"x": {"datum": -1.4, "type": "quantitative", "scale": {"domain": [-1.4, 101], "range": [53.5, 520], "nice": false, "zero": false}}, "x2": {"datum": 101}, "y": {"datum": -0.024, "type": "quantitative", "scale": {"domain": [-0.024, 0.45], "nice": false, "zero": false}}, "y2": {"datum": 0.45}}},
                        {"data": {"values": [{}]}, "mark": {"type": "rule", "color": "#c8c8c8", "strokeDash": [1.5, 1.5], "strokeWidth": 1},
                         "encoding": {"x": {"datum": 69, "type": "quantitative", "scale": {"domain": [-1.4, 101], "range": [53.5, 520], "nice": false, "zero": false}}, "x2": {"datum": 101}, "y": {"datum": 0, "type": "quantitative", "scale": {"domain": [-0.024, 0.45], "nice": false, "zero": false}}}},
                        {"data": {"name": "B"}, "transform": [{"filter": {"not": {"field": "node", "oneOf": ["3", "1"]}}}], "mark": {"type": "line", "strokeWidth": 1.8},
                         "encoding": {
                           "x": {"field": "weight", "type": "quantitative", "scale": {"domain": [-1.4, 101], "range": [53.5, 520], "nice": false, "zero": false}, "axis": {"values": [0,10,20,30,40,50,60,70,80,90,100], "title": "Weight", "labelFlush": 5.5, "labelPadding": 5, "titlePadding": 6}},
                           "y": {"field": "p", "type": "quantitative", "scale": {"domain": [-0.024, 0.45], "nice": false, "zero": false}, "axis": {"values": [0, 0.1, 0.2, 0.3, 0.4], "format": ".1f", "title": "P(Y)", "offset": -53.5, "labelPadding": 5, "titlePadding": 8}},
                           "color": {"field": "node", "type": "nominal", "scale": {"domain": ["3","1","2","4","5"], "range": ["#ff0000","#1f77b4","#ffaf60","#ff9896","#aec7e8"]}, "legend": null}}},
                        {"data": {"name": "B"}, "transform": [{"filter": {"field": "node", "equal": "3"}}], "mark": {"type": "line", "strokeWidth": 2.6},
                         "encoding": {"x": {"field": "weight", "type": "quantitative", "scale": {"domain": [-1.4, 101], "range": [53.5, 520], "nice": false, "zero": false}}, "y": {"field": "p", "type": "quantitative", "scale": {"domain": [-0.024, 0.45], "nice": false, "zero": false}},
                           "color": {"field": "node", "type": "nominal", "scale": {"domain": ["3","1","2","4","5"], "range": ["#ff0000","#1f77b4","#ffaf60","#ff9896","#aec7e8"]}, "legend": null}}},
                        {"data": {"name": "B"}, "transform": [{"filter": {"field": "node", "equal": "1"}}], "mark": {"type": "line", "strokeWidth": 2.6},
                         "encoding": {"x": {"field": "weight", "type": "quantitative", "scale": {"domain": [-1.4, 101], "range": [53.5, 520], "nice": false, "zero": false}}, "y": {"field": "p", "type": "quantitative", "scale": {"domain": [-0.024, 0.45], "nice": false, "zero": false}},
                           "color": {"field": "node", "type": "nominal", "scale": {"domain": ["3","1","2","4","5"], "range": ["#ff0000","#1f77b4","#ffaf60","#ff9896","#aec7e8"]}, "legend": null}}},
                        {"data": {"name": "notes"}, "transform": [{"filter": "datum.stage === 'B'"}], "mark": {"type": "text", "align": "center", "baseline": "middle", "dy": -17.5, "font": "Lato", "fontWeight": "bold", "fontSize": 12.5, "lineHeight": 17.5, "color": "#1a1a1a"},
                         "encoding": {"x": {"field": "lx", "type": "quantitative", "scale": {"domain": [-1.4, 101], "range": [53.5, 520], "nice": false, "zero": false}}, "y": {"field": "ly", "type": "quantitative", "scale": {"domain": [-0.024, 0.45], "nice": false, "zero": false}}, "text": {"field": "label", "type": "nominal"}}},
                        {"data": {"name": "notes"}, "transform": [{"filter": "datum.stage === 'B'"}], "mark": {"type": "rule", "color": "#333333", "strokeWidth": 1},
                         "encoding": {"x": {"field": "ax", "type": "quantitative", "scale": {"domain": [-1.4, 101], "range": [53.5, 520], "nice": false, "zero": false}}, "y": {"field": "ay", "type": "quantitative", "scale": {"domain": [-0.024, 0.45], "nice": false, "zero": false}}, "x2": {"field": "weight"}, "y2": {"field": "p"}}},
                        {"data": {"name": "notes"}, "transform": [{"filter": "datum.stage === 'B'"}], "mark": {"type": "point", "shape": "M0,0L-0.75,2L0.75,2Z", "filled": true, "color": "#111111", "opacity": 1, "size": 64, "angle": 106.5, "strokeWidth": 0},
                         "encoding": {"x": {"field": "weight", "type": "quantitative", "scale": {"domain": [-1.4, 101], "range": [53.5, 520], "nice": false, "zero": false}}, "y": {"field": "p", "type": "quantitative", "scale": {"domain": [-0.024, 0.45], "nice": false, "zero": false}}}}
                      ]
                    }
                  ]
                }
              ]
            },
            {
              "spacing": 3,
              "resolve": {"scale": {"color": "independent"}},
              "hconcat": [
                {
                  "spacing": 3,
                  "resolve": {"scale": {"color": "independent"}},
                  "vconcat": [
                    {"width": 520, "height": 23, "view": {"fill": "#e9eaee", "stroke": null}, "data": {"values": [{"stage": "Stage C"}]}, "mark": {"type": "text", "font": "Liberation Sans", "fontSize": 13.5, "color": "#3a3a3a", "baseline": "middle"}, "encoding": {"text": {"field": "stage", "type": "nominal"}}},
                    {
                      "width": 520, "height": 196,
                      "layer": [
                        {"data": {"values": [{}]}, "mark": {"type": "rect", "fill": "transparent", "stroke": "#d9d9d9", "strokeWidth": 1},
                         "encoding": {"x": {"datum": -1.4, "type": "quantitative", "scale": {"domain": [-1.4, 101], "range": [53.5, 520], "nice": false, "zero": false}}, "x2": {"datum": 101}, "y": {"datum": -0.024, "type": "quantitative", "scale": {"domain": [-0.024, 0.419], "nice": false, "zero": false}}, "y2": {"datum": 0.419}}},
                        {"data": {"values": [{}]}, "mark": {"type": "rule", "color": "#c8c8c8", "strokeDash": [1.5, 1.5], "strokeWidth": 1},
                         "encoding": {"x": {"datum": 69, "type": "quantitative", "scale": {"domain": [-1.4, 101], "range": [53.5, 520], "nice": false, "zero": false}}, "x2": {"datum": 101}, "y": {"datum": 0, "type": "quantitative", "scale": {"domain": [-0.024, 0.419], "nice": false, "zero": false}}}},
                        {"data": {"name": "C"}, "transform": [{"filter": {"not": {"field": "node", "oneOf": ["10", "13", "1"]}}}], "mark": {"type": "line", "strokeWidth": 1.8},
                         "encoding": {
                           "x": {"field": "weight", "type": "quantitative", "scale": {"domain": [-1.4, 101], "range": [53.5, 520], "nice": false, "zero": false}, "axis": {"values": [0,10,20,30,40,50,60,70,80,90,100], "title": "Weight", "labelFlush": 5.5, "labelPadding": 5, "titlePadding": 6}},
                           "y": {"field": "p", "type": "quantitative", "scale": {"domain": [-0.024, 0.419], "nice": false, "zero": false}, "axis": {"values": [0, 0.1, 0.2, 0.3, 0.4], "format": ".1f", "title": "P(Y)", "offset": -53.5, "labelPadding": 5, "titlePadding": 8}},
                           "color": {"field": "node", "type": "nominal", "scale": {"domain": ["10","13","1","2","3","4","5","6"], "range": ["#000000","#ff0000","#1f77b4","#ff2020","#c49c94","#2ca02c","#ff9f40","#aec7e8"]}, "legend": null}}},
                        {"data": {"name": "C"}, "transform": [{"filter": {"field": "node", "equal": "13"}}], "mark": {"type": "line", "strokeWidth": 2.6},
                         "encoding": {"x": {"field": "weight", "type": "quantitative", "scale": {"domain": [-1.4, 101], "range": [53.5, 520], "nice": false, "zero": false}}, "y": {"field": "p", "type": "quantitative", "scale": {"domain": [-0.024, 0.419], "nice": false, "zero": false}},
                           "color": {"field": "node", "type": "nominal", "scale": {"domain": ["10","13","1","2","3","4","5","6"], "range": ["#000000","#ff0000","#1f77b4","#ff2020","#c49c94","#2ca02c","#ff9f40","#aec7e8"]}, "legend": null}}},
                        {"data": {"name": "C"}, "transform": [{"filter": {"field": "node", "equal": "10"}}], "mark": {"type": "line", "strokeWidth": 2.6},
                         "encoding": {"x": {"field": "weight", "type": "quantitative", "scale": {"domain": [-1.4, 101], "range": [53.5, 520], "nice": false, "zero": false}}, "y": {"field": "p", "type": "quantitative", "scale": {"domain": [-0.024, 0.419], "nice": false, "zero": false}},
                           "color": {"field": "node", "type": "nominal", "scale": {"domain": ["10","13","1","2","3","4","5","6"], "range": ["#000000","#ff0000","#1f77b4","#ff2020","#c49c94","#2ca02c","#ff9f40","#aec7e8"]}, "legend": null}}},
                        {"data": {"name": "C"}, "transform": [{"filter": {"field": "node", "equal": "1"}}], "mark": {"type": "line", "strokeWidth": 2.6},
                         "encoding": {"x": {"field": "weight", "type": "quantitative", "scale": {"domain": [-1.4, 101], "range": [53.5, 520], "nice": false, "zero": false}}, "y": {"field": "p", "type": "quantitative", "scale": {"domain": [-0.024, 0.419], "nice": false, "zero": false}},
                           "color": {"field": "node", "type": "nominal", "scale": {"domain": ["10","13","1","2","3","4","5","6"], "range": ["#000000","#ff0000","#1f77b4","#ff2020","#c49c94","#2ca02c","#ff9f40","#aec7e8"]}, "legend": null}}},
                        {"data": {"name": "notes"}, "transform": [{"filter": "datum.stage === 'C'"}], "mark": {"type": "text", "align": "right", "baseline": "middle", "dy": -17.5, "font": "Lato", "fontWeight": "bold", "fontSize": 12.5, "lineHeight": 17.5, "color": "#1a1a1a"},
                         "encoding": {"x": {"field": "lx", "type": "quantitative", "scale": {"domain": [-1.4, 101], "range": [53.5, 520], "nice": false, "zero": false}}, "y": {"field": "ly", "type": "quantitative", "scale": {"domain": [-0.024, 0.419], "nice": false, "zero": false}}, "text": {"field": "label", "type": "nominal"}}},
                        {"data": {"name": "notes"}, "transform": [{"filter": "datum.stage === 'C'"}], "mark": {"type": "rule", "color": "#333333", "strokeWidth": 1},
                         "encoding": {"x": {"field": "ax", "type": "quantitative", "scale": {"domain": [-1.4, 101], "range": [53.5, 520], "nice": false, "zero": false}}, "y": {"field": "ay", "type": "quantitative", "scale": {"domain": [-0.024, 0.419], "nice": false, "zero": false}}, "x2": {"field": "weight"}, "y2": {"field": "p"}}},
                        {"data": {"name": "notes"}, "transform": [{"filter": "datum.stage === 'C' && datum.node === '10'"}], "mark": {"type": "point", "shape": "M0,0L-0.75,2L0.75,2Z", "filled": true, "color": "#111111", "opacity": 1, "size": 64, "angle": 75.2, "strokeWidth": 0},
                         "encoding": {"x": {"field": "weight", "type": "quantitative", "scale": {"domain": [-1.4, 101], "range": [53.5, 520], "nice": false, "zero": false}}, "y": {"field": "p", "type": "quantitative", "scale": {"domain": [-0.024, 0.419], "nice": false, "zero": false}}}},
                        {"data": {"name": "notes"}, "transform": [{"filter": "datum.stage === 'C' && datum.node === '13'"}], "mark": {"type": "point", "shape": "M0,0L-0.75,2L0.75,2Z", "filled": true, "color": "#111111", "opacity": 1, "size": 64, "angle": 78.3, "strokeWidth": 0},
                         "encoding": {"x": {"field": "weight", "type": "quantitative", "scale": {"domain": [-1.4, 101], "range": [53.5, 520], "nice": false, "zero": false}}, "y": {"field": "p", "type": "quantitative", "scale": {"domain": [-0.024, 0.419], "nice": false, "zero": false}}}}
                      ]
                    }
                  ]
                },
                {
                  "spacing": 3,
                  "resolve": {"scale": {"color": "independent"}},
                  "vconcat": [
                    {"width": 520, "height": 23, "view": {"fill": "#e9eaee", "stroke": null}, "data": {"values": [{"stage": "Stage D"}]}, "mark": {"type": "text", "font": "Liberation Sans", "fontSize": 13.5, "color": "#3a3a3a", "baseline": "middle"}, "encoding": {"text": {"field": "stage", "type": "nominal"}}},
                    {
                      "width": 520, "height": 196,
                      "layer": [
                        {"data": {"values": [{}]}, "mark": {"type": "rect", "fill": "transparent", "stroke": "#d9d9d9", "strokeWidth": 1},
                         "encoding": {"x": {"datum": -1.4, "type": "quantitative", "scale": {"domain": [-1.4, 101], "range": [53.5, 520], "nice": false, "zero": false}}, "x2": {"datum": 101}, "y": {"datum": -0.0375, "type": "quantitative", "scale": {"domain": [-0.0375, 0.631], "nice": false, "zero": false}}, "y2": {"datum": 0.631}}},
                        {"data": {"values": [{}]}, "mark": {"type": "rule", "color": "#c8c8c8", "strokeDash": [1.5, 1.5], "strokeWidth": 1},
                         "encoding": {"x": {"datum": 69, "type": "quantitative", "scale": {"domain": [-1.4, 101], "range": [53.5, 520], "nice": false, "zero": false}}, "x2": {"datum": 101}, "y": {"datum": 0, "type": "quantitative", "scale": {"domain": [-0.0375, 0.631], "nice": false, "zero": false}}}},
                        {"data": {"name": "D"}, "transform": [{"filter": {"not": {"field": "node", "oneOf": ["11", "22", "1"]}}}], "mark": {"type": "line", "strokeWidth": 1.8},
                         "encoding": {
                           "x": {"field": "weight", "type": "quantitative", "scale": {"domain": [-1.4, 101], "range": [53.5, 520], "nice": false, "zero": false}, "axis": {"values": [0,10,20,30,40,50,60,70,80,90,100], "title": "Weight", "labelFlush": 5.5, "labelPadding": 5, "titlePadding": 6}},
                           "y": {"field": "p", "type": "quantitative", "scale": {"domain": [-0.0375, 0.631], "nice": false, "zero": false}, "axis": {"values": [0, 0.2, 0.4, 0.6], "format": ".1f", "title": "P(Y)", "offset": -53.5, "labelPadding": 5, "titlePadding": 8}},
                           "color": {"field": "node", "type": "nominal", "scale": {"domain": ["11","22","1","2","3","4","5","6","7","8"], "range": ["#000000","#ff0000","#1f77b4","#ff1a1a","#2ca02c","#ffbb78","#c49c94","#aec7e8","#ff7f0e","#17becf"]}, "legend": null}}},
                        {"data": {"name": "D"}, "transform": [{"filter": {"field": "node", "equal": "22"}}], "mark": {"type": "line", "strokeWidth": 2.6},
                         "encoding": {"x": {"field": "weight", "type": "quantitative", "scale": {"domain": [-1.4, 101], "range": [53.5, 520], "nice": false, "zero": false}}, "y": {"field": "p", "type": "quantitative", "scale": {"domain": [-0.0375, 0.631], "nice": false, "zero": false}},
                           "color": {"field": "node", "type": "nominal", "scale": {"domain": ["11","22","1","2","3","4","5","6","7","8"], "range": ["#000000","#ff0000","#1f77b4","#ff1a1a","#2ca02c","#ffbb78","#c49c94","#aec7e8","#ff7f0e","#17becf"]}, "legend": null}}},
                        {"data": {"name": "D"}, "transform": [{"filter": {"field": "node", "equal": "11"}}], "mark": {"type": "line", "strokeWidth": 2.6},
                         "encoding": {"x": {"field": "weight", "type": "quantitative", "scale": {"domain": [-1.4, 101], "range": [53.5, 520], "nice": false, "zero": false}}, "y": {"field": "p", "type": "quantitative", "scale": {"domain": [-0.0375, 0.631], "nice": false, "zero": false}},
                           "color": {"field": "node", "type": "nominal", "scale": {"domain": ["11","22","1","2","3","4","5","6","7","8"], "range": ["#000000","#ff0000","#1f77b4","#ff1a1a","#2ca02c","#ffbb78","#c49c94","#aec7e8","#ff7f0e","#17becf"]}, "legend": null}}},
                        {"data": {"name": "D"}, "transform": [{"filter": {"field": "node", "equal": "1"}}], "mark": {"type": "line", "strokeWidth": 2.6},
                         "encoding": {"x": {"field": "weight", "type": "quantitative", "scale": {"domain": [-1.4, 101], "range": [53.5, 520], "nice": false, "zero": false}}, "y": {"field": "p", "type": "quantitative", "scale": {"domain": [-0.0375, 0.631], "nice": false, "zero": false}},
                           "color": {"field": "node", "type": "nominal", "scale": {"domain": ["11","22","1","2","3","4","5","6","7","8"], "range": ["#000000","#ff0000","#1f77b4","#ff1a1a","#2ca02c","#ffbb78","#c49c94","#aec7e8","#ff7f0e","#17becf"]}, "legend": null}}},
                        {"data": {"name": "notes"}, "transform": [{"filter": "datum.stage === 'D'"}], "mark": {"type": "text", "align": "right", "baseline": "middle", "dy": -17.5, "font": "Lato", "fontWeight": "bold", "fontSize": 12.5, "lineHeight": 17.5, "color": "#1a1a1a"},
                         "encoding": {"x": {"field": "lx", "type": "quantitative", "scale": {"domain": [-1.4, 101], "range": [53.5, 520], "nice": false, "zero": false}}, "y": {"field": "ly", "type": "quantitative", "scale": {"domain": [-0.0375, 0.631], "nice": false, "zero": false}}, "text": {"field": "label", "type": "nominal"}}},
                        {"data": {"name": "notes"}, "transform": [{"filter": "datum.stage === 'D'"}], "mark": {"type": "rule", "color": "#333333", "strokeWidth": 1},
                         "encoding": {"x": {"field": "ax", "type": "quantitative", "scale": {"domain": [-1.4, 101], "range": [53.5, 520], "nice": false, "zero": false}}, "y": {"field": "ay", "type": "quantitative", "scale": {"domain": [-0.0375, 0.631], "nice": false, "zero": false}}, "x2": {"field": "weight"}, "y2": {"field": "p"}}},
                        {"data": {"name": "notes"}, "transform": [{"filter": "datum.stage === 'D' && datum.node === '11'"}], "mark": {"type": "point", "shape": "M0,0L-0.75,2L0.75,2Z", "filled": true, "color": "#111111", "opacity": 1, "size": 64, "angle": 111.9, "strokeWidth": 0},
                         "encoding": {"x": {"field": "weight", "type": "quantitative", "scale": {"domain": [-1.4, 101], "range": [53.5, 520], "nice": false, "zero": false}}, "y": {"field": "p", "type": "quantitative", "scale": {"domain": [-0.0375, 0.631], "nice": false, "zero": false}}}},
                        {"data": {"name": "notes"}, "transform": [{"filter": "datum.stage === 'D' && datum.node === '22'"}], "mark": {"type": "point", "shape": "M0,0L-0.75,2L0.75,2Z", "filled": true, "color": "#111111", "opacity": 1, "size": 64, "angle": 63.1, "strokeWidth": 0},
                         "encoding": {"x": {"field": "weight", "type": "quantitative", "scale": {"domain": [-1.4, 101], "range": [53.5, 520], "nice": false, "zero": false}}, "y": {"field": "p", "type": "quantitative", "scale": {"domain": [-0.0375, 0.631], "nice": false, "zero": false}}}}
                      ]
                    }
                  ]
                }
              ]
            }
          ]
        }
      ]
    }
  ]
}
